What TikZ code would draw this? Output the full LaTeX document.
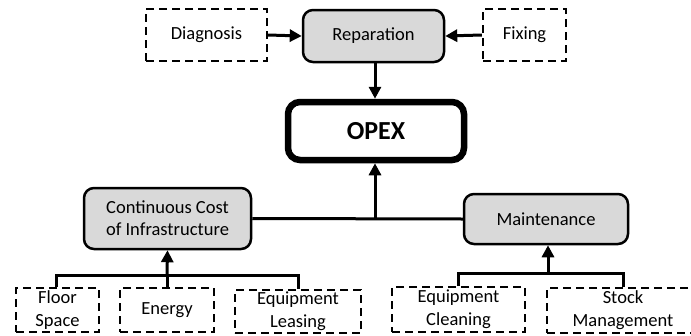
\documentclass[tikz,border=0pt]{standalone}
\usepackage{fontspec}
\setmainfont{Carlito}
\usetikzlibrary{arrows.meta}
\definecolor{boxgray}{HTML}{D9D9D9}
\tikzset{
  costbox/.style={draw=black, line width=2.5pt, fill=boxgray, rounded corners=10pt,
    font=\fontsize{18.5}{22}\selectfont, align=center, inner sep=0pt, anchor=center},
  itembox/.style={draw=black, line width=2.2pt, dash pattern=on 8pt off 5pt,
    font=\fontsize{18.5}{23}\selectfont, align=center, inner sep=0pt, anchor=center},
  mainbox/.style={draw=black, line width=6.5pt, rounded corners=12pt,
    font=\bfseries\fontsize{26}{30}\selectfont, inner sep=0pt, anchor=center},
  link/.style={draw=black, line width=3pt},
  arr/.style={link, -{Triangle[length=12pt,width=12pt]}}
}
\begin{document}
\begin{tikzpicture}[x=1pt, y=-1pt]
  \useasboundingbox (0,0) rectangle (691,335);
  \clip (0,0) rectangle (691,335);

  % top row: reparation and what feeds it
  \node[itembox, minimum width=121pt, minimum height=52pt] (diag) at (206.5,35) {Diagnosis};
  \node[costbox, minimum width=141pt, minimum height=52pt] (rep) at (373.5,36) {Reparation};
  \node[itembox, minimum width=83pt, minimum height=52pt] (fix) at (524.5,35) {Fixing};

  % central cost node
  \node[mainbox, minimum width=176pt, minimum height=58pt] (opex) at (376,131) {OPEX};

  % middle row
  \node[costbox, minimum width=167pt, minimum height=61pt] (cont) at (167.5,218.5)
    {Continuous Cost\\of Infrastructure};
  \node[costbox, minimum width=164pt, minimum height=50pt] (maint) at (546,219) {Maintenance};

  % bottom row
  \node[itembox, minimum width=83pt, minimum height=44pt] (floor) at (57.5,310) {Floor\\Space};
  \node[itembox, minimum width=94pt, minimum height=44pt] (energy) at (167,310) {Energy};
  \node[itembox, minimum width=126pt, minimum height=43pt] (lease) at (298,311.5) {Equipment\\Leasing};
  \node[itembox, minimum width=133pt, minimum height=45pt] (clean) at (458.5,309.5) {Equipment\\Cleaning};
  \node[itembox, minimum width=152pt, minimum height=45pt] (stock) at (623,310.5) {Stock\\Management};

  % junction points
  \coordinate (hub) at (375,218);
  \coordinate (busL) at (167,275);
  \coordinate (busR) at (548,273);

  % connectors
  \draw[arr] (diag.east) -- (rep.west);
  \draw[arr] (fix.west) -- (rep.east);
  \draw[arr] (rep.south -| hub) -- (hub |- opex.north);
  \draw[link] (cont.east) -- (maint.west);
  \draw[arr] (hub) -- (hub |- opex.south);

  \draw[link] (floor.north -| 56,0) |- (busL) -| (lease.north);
  \draw[link] (energy.north) -- (busL);
  \draw[arr] (busL) -- (cont.south);

  \draw[link] (clean.north) |- (busR) -| (stock.north);
  \draw[arr] (busR) -- (busR |- maint.south);
\end{tikzpicture}
\end{document}
